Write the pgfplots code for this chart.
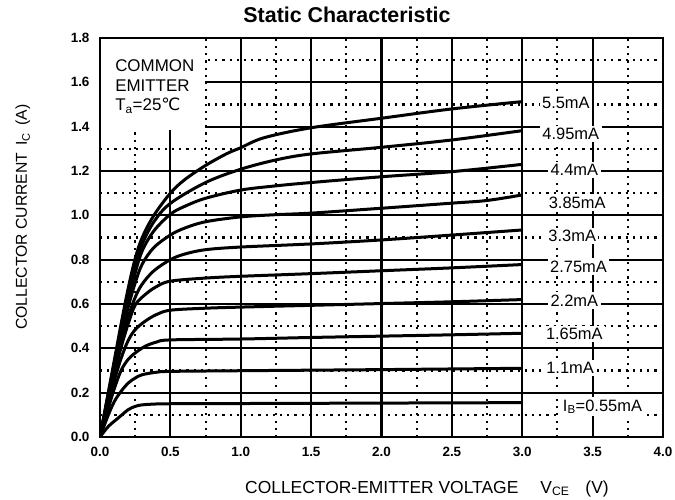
\documentclass[border=0pt]{standalone}
\usepackage{fontspec}
\setmainfont{Liberation Sans}
\newfontfamily\dejavu{DejaVu Sans}
\usepackage{pgfplots}
\pgfplotsset{compat=1.18}
\begin{document}
\begin{tikzpicture}
\path[use as bounding box] (-100bp,-63bp) rectangle (575bp,437bp);
\begin{axis}[
 at={(0,0)}, anchor=south west,
 scale only axis, width=563bp, height=399bp,
 xmin=0, xmax=4, ymin=0, ymax=1.8,
 xtick={0,0.5,1,1.5,2,2.5,3,3.5,4},
 ytick={0,0.2,0.4,0.6,0.8,1.0,1.2,1.4,1.6,1.8},
 minor x tick num=1, minor y tick num=1,
 grid=both,
 major grid style={black, line width=2.1bp},
 minor grid style={black, line width=2.1bp, dash pattern=on 2.1bp off 5.1bp},
 axis line style={line width=2.2bp},
 tick style={draw=none},
 xticklabel style={font=\bfseries\fontsize{13.5}{15}\selectfont, yshift=-7bp},
 yticklabel style={font=\bfseries\fontsize{13.5}{15}\selectfont, xshift=-7bp},
 curve/.style={black, solid, line width=3bp, smooth, tension=0.55, mark=none},
 /pgf/number format/.cd, fixed, fixed zerofill, precision=1, assume math mode=true,
]
% 5.5 mA
\addplot[curve] coordinates {(0,0)(0.05,0.17)(0.1,0.34)(0.15,0.51)(0.2,0.67)(0.25,0.805)(0.3,0.9)(0.383,1.0)(0.5,1.1)(0.6,1.16)(0.75,1.225)(0.9,1.278)(1.0,1.305)(1.165,1.35)(1.5,1.395)(2.0,1.438)(2.5,1.48)(3.0,1.513)};
% 4.95 mA
\addplot[curve] coordinates {(0,0)(0.05,0.165)(0.1,0.33)(0.15,0.49)(0.2,0.64)(0.25,0.77)(0.3,0.87)(0.383,0.971)(0.5,1.054)(0.75,1.148)(1.0,1.208)(1.25,1.25)(1.5,1.277)(2.0,1.307)(2.5,1.34)(3.0,1.382)};
% 4.4 mA
\addplot[curve] coordinates {(0,0)(0.05,0.16)(0.1,0.32)(0.15,0.47)(0.2,0.61)(0.25,0.74)(0.3,0.84)(0.383,0.93)(0.5,1.005)(0.6,1.04)(0.75,1.077)(1.0,1.114)(1.25,1.133)(1.5,1.148)(2.0,1.174)(2.5,1.197)(3.0,1.23)};
% 3.85 mA
\addplot[curve] coordinates {(0,0)(0.05,0.155)(0.1,0.31)(0.15,0.45)(0.2,0.585)(0.25,0.695)(0.3,0.78)(0.383,0.855)(0.5,0.911)(0.6,0.942)(0.75,0.971)(1.0,0.993)(1.25,1.003)(1.5,1.01)(2.0,1.032)(2.5,1.055)(2.75,1.067)(3.0,1.092)};
% 3.3 mA
\addplot[curve] coordinates {(0,0)(0.05,0.15)(0.1,0.295)(0.15,0.425)(0.2,0.54)(0.25,0.63)(0.3,0.69)(0.383,0.75)(0.5,0.8)(0.6,0.825)(0.75,0.845)(1.0,0.857)(1.5,0.871)(2.0,0.889)(2.5,0.911)(3.0,0.934)};
% 2.75 mA
\addplot[curve] coordinates {(0,0)(0.05,0.145)(0.1,0.28)(0.15,0.405)(0.2,0.51)(0.25,0.595)(0.32,0.642)(0.4,0.678)(0.5,0.703)(0.75,0.717)(1.0,0.725)(1.5,0.737)(2.0,0.75)(2.5,0.763)(3.0,0.778)};
% 2.2 mA
\addplot[curve] coordinates {(0,0)(0.05,0.13)(0.1,0.25)(0.15,0.355)(0.2,0.435)(0.25,0.484)(0.32,0.522)(0.4,0.552)(0.5,0.572)(0.75,0.581)(1.0,0.586)(1.5,0.594)(2.0,0.602)(2.5,0.61)(3.0,0.62)};
% 1.65 mA
\addplot[curve] coordinates {(0,0)(0.05,0.11)(0.1,0.215)(0.15,0.3)(0.2,0.35)(0.25,0.379)(0.32,0.409)(0.4,0.428)(0.5,0.438)(1.0,0.442)(1.5,0.449)(2.0,0.455)(2.5,0.461)(3.0,0.468)};
% 1.1 mA
\addplot[curve] coordinates {(0,0)(0.05,0.085)(0.1,0.158)(0.15,0.206)(0.2,0.243)(0.25,0.266)(0.3,0.281)(0.4,0.292)(0.5,0.296)(1.0,0.299)(2.0,0.304)(3.0,0.31)};
% 0.55 mA
\addplot[curve] coordinates {(0,0)(0.06,0.048)(0.13,0.086)(0.2,0.123)(0.25,0.138)(0.3,0.145)(0.4,0.149)(0.5,0.15)(1.0,0.151)(2.0,0.153)(3.0,0.155)};

\fill[white] ([xshift=1.2bp]axis cs:0,1.385) rectangle ([yshift=-1.2bp]axis cs:0.745,1.8);
\node[anchor=north west, align=left, inner sep=0pt, font=\fontsize{17}{20}\selectfont] at (axis cs:0.107,1.705) {COMMON\\EMITTER\\T\textsubscript{a}=25{\dejavu ℃}};

\begin{scope}[every node/.style={fill=white, inner sep=2.5bp, font=\fontsize{16.5}{18}\selectfont}]
\node at (axis cs:3.31,1.507) {5.5mA};
\node at (axis cs:3.345,1.367) {4.95mA};
\node at (axis cs:3.37,1.204) {4.4mA};
\node at (axis cs:3.39,1.057) {3.85mA};
\node at (axis cs:3.355,0.907) {3.3mA};
\node at (axis cs:3.40,0.768) {2.75mA};
\node at (axis cs:3.37,0.615) {2.2mA};
\node at (axis cs:3.37,0.465) {1.65mA};
\node at (axis cs:3.34,0.311) {1.1mA};
\node at (axis cs:3.57,0.137) {I\textsubscript{B}=0.55mA};
\end{scope}
\end{axis}
\node[font=\bfseries\fontsize{21.5}{24}\selectfont] at (247bp,422bp) {Static Characteristic};
\node[anchor=base west, inner sep=0pt, font=\fontsize{17.5}{19}\selectfont] at (145bp,-56bp) {COLLECTOR-EMITTER VOLTAGE\hspace{22bp}V\textsubscript{CE}\hspace{16bp}(V)};
\node[rotate=90, anchor=base west, inner sep=0pt, font=\fontsize{15.8}{18}\selectfont] at (-73bp,107bp) {COLLECTOR CURRENT\hspace{7bp}I\textsubscript{C}\hspace{7bp}(A)};
\end{tikzpicture}
\end{document}
